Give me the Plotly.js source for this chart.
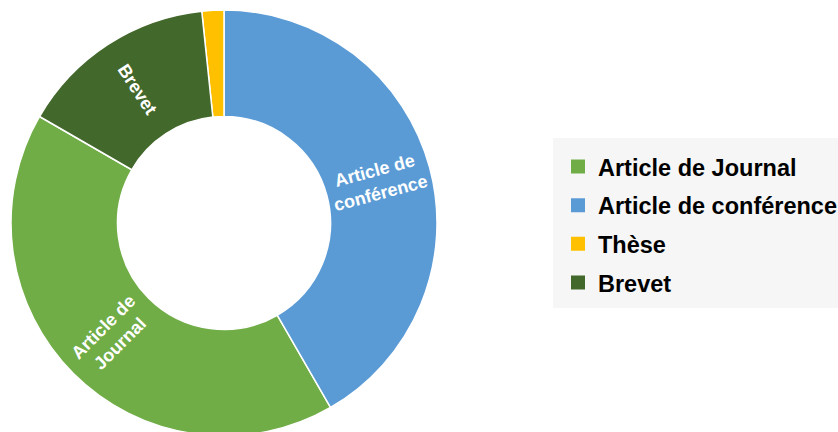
<!DOCTYPE html>
<html>
<head>
<meta charset="utf-8">
<script src="https://cdn.plot.ly/plotly-3.0.1.min.js"></script>
<style>
html,body{margin:0;padding:0;overflow:hidden;background:#fff;}
#chart{width:870px;height:446px;}
</style>
</head>
<body>
<div id="chart"></div>
<script>
// Data (legend order)
const categories = ["Article de Journal", "Article de conférence", "Thèse", "Brevet"];
const counts = [25, 25, 1, 9];
const sliceText = ["Article de<br>Journal", "Article de<br>conférence", "", "Brevet"];
const sliceColors = ["#70AD47", "#5B9BD5", "#FFC000", "#43682B"];
// clockwise order of the slices round the ring, starting at 12 o'clock
const ringOrder = [1, 0, 3, 2];

// drawing surface a bit wider than the 838px window so the long legend
// entry is clipped by the window (as in the reference) instead of pushing margins
const W = 870, H = 446;
const px = (x) => x / W;
const py = (y) => 1 - y / H;
const domain = {x: [px(11), px(437)], y: [py(436), py(10)]};
const textFont = {family: "Liberation Sans, Arial, sans-serif", size: 18, color: "#ffffff", weight: 700};

const pie = {
  type: "pie",
  labels: categories,
  values: counts,
  textinfo: "none",
  hole: 0.5,
  sort: false,
  direction: "counterclockwise",
  rotation: 150,
  marker: {colors: sliceColors, line: {color: "#ffffff", width: 1.5}},
  domain: domain,
  showlegend: false,
  hoverinfo: "label+value+percent"
};

// transparent overlay ring that only carries the radial slice labels,
// each label centred on the middle of its slice
const total = counts.reduce((a, b) => a + b, 0);
const labVals = [], labIds = [], labText = [];
let start = 0;
ringOrder.forEach((i) => {
  const span = counts[i] / total * 360;
  const mid = start + span / 2;
  let w = span / 2;
  [90, 270].forEach((c) => { if (Math.abs(mid - c) < w) w = Math.abs(mid - c) - 0.5; });
  const gap = span / 2 - w;
  labVals.push(gap, 2 * w, gap);
  labIds.push("a" + i, "t" + i, "b" + i);
  labText.push("", sliceText[i], "");
  start += span;
});

const labelRing = {
  type: "pie",
  labels: labIds,
  values: labVals,
  text: labText,
  textinfo: "text",
  textposition: "inside",
  insidetextorientation: "radial",
  insidetextfont: textFont,
  hole: 0.5,
  sort: false,
  direction: "clockwise",
  rotation: 0,
  marker: {colors: labIds.map(() => "rgba(0,0,0,0)"), line: {width: 0}},
  domain: domain,
  showlegend: false,
  hoverinfo: "skip"
};

const legendTraces = categories.map((c, i) => ({
  type: "scatter",
  mode: "markers",
  x: [null], y: [null],
  name: c,
  legendgroup: "g" + i,
  showlegend: true,
  marker: {symbol: "square", size: 14, color: sliceColors[i]},
  hoverinfo: "skip"
}));

const layout = {
  width: W, height: H,
  margin: {l: 0, r: 0, t: 0, b: 0},
  paper_bgcolor: "#ffffff",
  plot_bgcolor: "rgba(0,0,0,0)",
  xaxis: {visible: false},
  yaxis: {visible: false},
  showlegend: true,
  legend: {
    x: px(558), xanchor: "left",
    y: py(144.7), yanchor: "top",
    bgcolor: "rgba(0,0,0,0)",
    traceorder: "grouped",
    tracegroupgap: 5.1,
    font: {family: "Liberation Sans, Arial, sans-serif", size: 23.5, color: "#000000", weight: 700}
  },
  shapes: [{
    type: "rect", xref: "paper", yref: "paper", layer: "below",
    x0: px(553), x1: px(870), y0: py(308), y1: py(138),
    fillcolor: "#F6F6F6", line: {width: 0}
  }]
};

Plotly.newPlot("chart", [pie, labelRing].concat(legendTraces), layout, {displayModeBar: false, staticPlot: true});
</script>
</body>
</html>
